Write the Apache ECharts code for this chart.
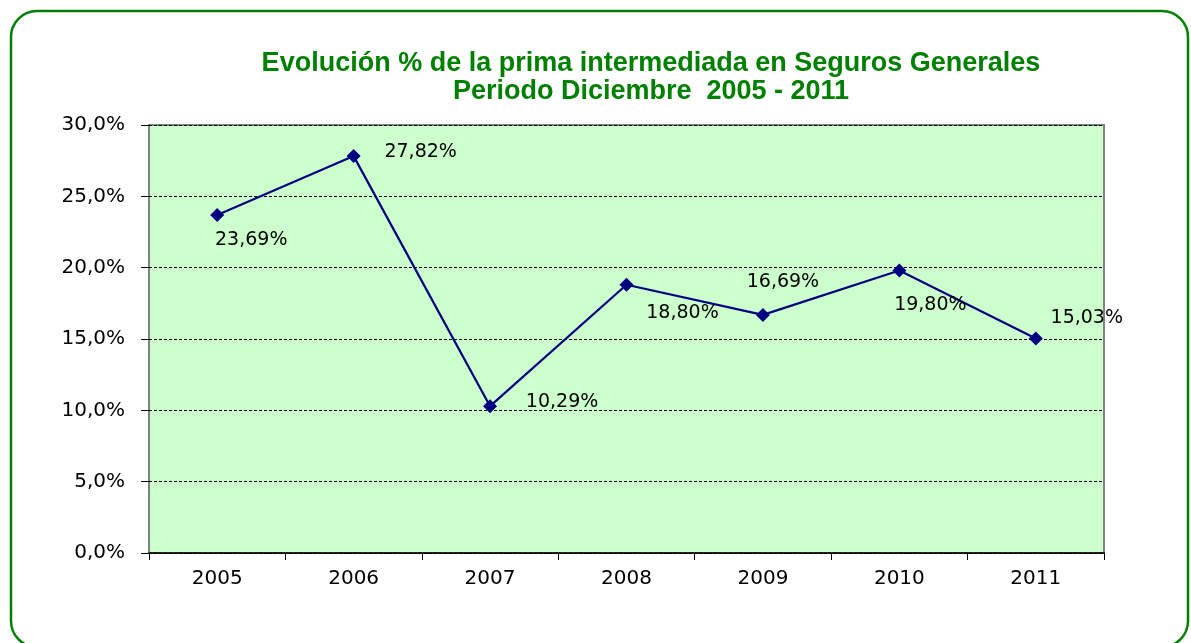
<!DOCTYPE html>
<html>
<head>
<meta charset="utf-8">
<script src="https://cdn.jsdelivr.net/npm/echarts@6/dist/echarts.min.js"></script>
<style>
  html, body { margin: 0; padding: 0; background: #fff; }
  #chart { width: 1191px; height: 643px; }
</style>
</head>
<body>
<div id="chart"></div>
<script>
var years = ['2005', '2006', '2007', '2008', '2009', '2010', '2011'];
var growth = [23.69, 27.82, 10.29, 18.80, 16.69, 19.80, 15.03];
// label offsets from the marker, per point
var labelOffsets = [[34, 25], [67, -4], [72, -4], [56, 28], [20, -33], [31, 35], [51, -21]];

function pct(v, d) {
    return v.toFixed(d).replace('.', ',') + '%';
}

var chart = document.getElementById('chart');
var myChart = echarts.init(chart);

var option = {
    backgroundColor: '#fff',
    animation: false,
    graphic: [{
        type: 'rect',
        shape: { x: 11, y: 11, width: 1177, height: 636, r: 26 },
        style: { fill: 'none', stroke: '#008000', lineWidth: 2.5 },
        z: 0
    }],
    title: [{
        text: 'Evolución % de la prima intermediada en Seguros Generales',
        left: 646, top: 45, textAlign: 'center',
        textStyle: { fontFamily: 'Liberation Sans', fontWeight: 'bold', fontSize: 27, color: '#008000' }
    }, {
        text: 'Periodo Diciembre  2005 - 2011',
        left: 646, top: 73, textAlign: 'center',
        textStyle: { fontFamily: 'Liberation Sans', fontWeight: 'bold', fontSize: 27, color: '#008000' }
    }],
    grid: {
        left: 149, right: 87, top: 125, bottom: 90,
        show: true,
        backgroundColor: '#CCFFCC',
        borderColor: '#808080',
        borderWidth: 2
    },
    xAxis: {
        type: 'category',
        data: years,
        boundaryGap: true,
        axisLine: { lineStyle: { color: '#000', width: 1.5 } },
        axisTick: { show: true, length: 7, lineStyle: { color: '#000' } },
        axisLabel: { fontFamily: 'DejaVu Sans', fontSize: 20, color: '#000', margin: 16 }
    },
    yAxis: {
        type: 'value',
        min: 0, max: 30, interval: 5,
        axisLine: { show: false },
        axisTick: { show: true, length: 8, lineStyle: { color: '#000' } },
        axisLabel: {
            fontFamily: 'DejaVu Sans', fontSize: 20, color: '#000', margin: 24,
            formatter: function (v) { return pct(v, 1); }
        },
        splitLine: { lineStyle: { color: '#000', width: 1, type: [3, 2] } }
    },
    series: [{
        name: 'Evolución',
        type: 'line',
        data: growth.map(function (v, i) {
            return {
                value: v,
                label: { offset: labelOffsets[i] }
            };
        }),
        symbol: 'diamond',
        symbolSize: 14,
        itemStyle: { color: '#000080' },
        lineStyle: { color: '#000080', width: 2.2 },
        label: {
            show: true,
            position: 'inside',
            fontFamily: 'DejaVu Sans',
            fontSize: 19,
            color: '#000',
            formatter: function (p) { return pct(p.value, 2); }
        },
        z: 5
    }]
};
myChart.setOption(option);
</script>
</body>
</html>
